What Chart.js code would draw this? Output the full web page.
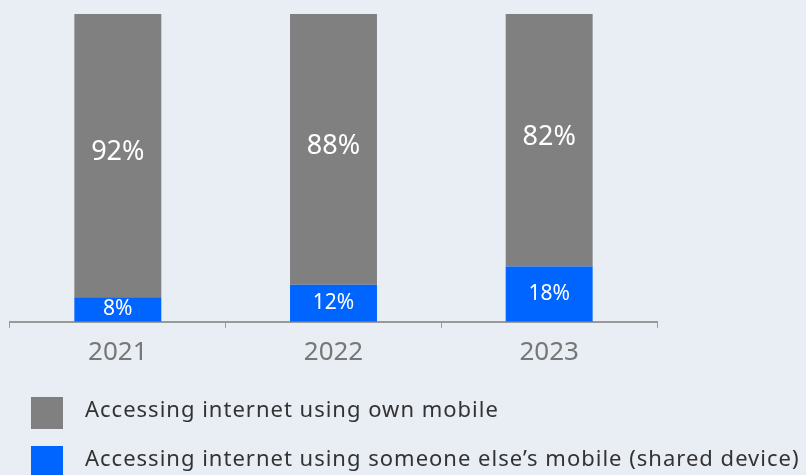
<!DOCTYPE html>
<html>
<head>
<meta charset="utf-8">
<script src="https://cdn.jsdelivr.net/npm/chart.js@4"></script>
<style>
  html, body { margin: 0; padding: 0; background: #e9edf4; }
  #wrap { width: 806px; height: 475px; }
</style>
</head>
<body>
<div id="wrap"><canvas id="barChart"></canvas></div>
<script>
const years = ['2021', '2022', '2023'];
const ownMobile = [92, 88, 82];
const sharedDevice = [8, 12, 18];
const seriesNames = [
	'Accessing internet using own mobile',
	'Accessing internet using someone else\u2019s mobile (shared device)',
];

const FONT = '"Noto Sans", Lato, sans-serif';

// white value labels in the middle of each bar piece
const valueLabels = {
	id: 'valueLabels',
	afterDatasetsDraw(chart) {
		const { ctx } = chart;
		ctx.save();
		ctx.fillStyle = '#ffffff';
		ctx.textAlign = 'center';
		ctx.textBaseline = 'middle';
		chart.data.datasets.forEach((ds, i) => {
			const meta = chart.getDatasetMeta(i);
			ctx.font = (i === 0 ? '27px ' : '21px ') + FONT;
			meta.data.forEach((bar, j) => {
				const mid = (bar.y + bar.base) / 2;
				const shift = i === 0 ? -3 : 0;
				ctx.fillText(ds.data[j] + '%', bar.x, mid + shift);
			});
		});
		ctx.restore();
	},
};

// legend drawn below the axis, one row per series
const sideLegend = {
	id: 'sideLegend',
	afterDraw(chart) {
		const { ctx } = chart;
		ctx.save();
		ctx.font = '22px ' + FONT;
		ctx.letterSpacing = '1px';
		ctx.textBaseline = 'middle';
		chart.data.datasets.forEach((ds, i) => {
			const y = 397 + i * 49;
			ctx.fillStyle = ds.backgroundColor;
			ctx.fillRect(31, y, 32, 32);
			ctx.fillStyle = '#333333';
			ctx.fillText(ds.label, 85, y + 14);
		});
		ctx.restore();
	},
};

new Chart(document.querySelector('#barChart'), {
	type: 'bar',
	data: {
		labels: years,
		datasets: [
			{
				label: seriesNames[0],
				data: ownMobile,
				backgroundColor: '#808080',
				stack: 's',
				order: 2,
			},
			{
				label: seriesNames[1],
				data: sharedDevice,
				backgroundColor: '#0064ff',
				stack: 's',
				order: 1,
			},
		],
	},
	options: {
		responsive: true,
		maintainAspectRatio: false,
		animation: false,
		layout: { padding: { left: 10, right: 149, top: 14, bottom: 98 } },
		datasets: { bar: { barPercentage: 0.8, categoryPercentage: 0.504 } },
		plugins: {
			legend: { display: false },
			tooltip: { enabled: false },
		},
		scales: {
			x: {
				stacked: true,
				grid: {
					drawOnChartArea: false,
					drawTicks: true,
					tickLength: 6,
					color: '#999999',
				},
				border: { color: '#999999', width: 2 },
				ticks: {
					color: '#777777',
					font: { family: FONT, size: 26 },
					padding: 9,
				},
			},
			y: {
				stacked: true,
				display: false,
				min: 0,
				max: 100,
			},
		},
	},
	plugins: [valueLabels, sideLegend],
});
</script>
</body>
</html>
